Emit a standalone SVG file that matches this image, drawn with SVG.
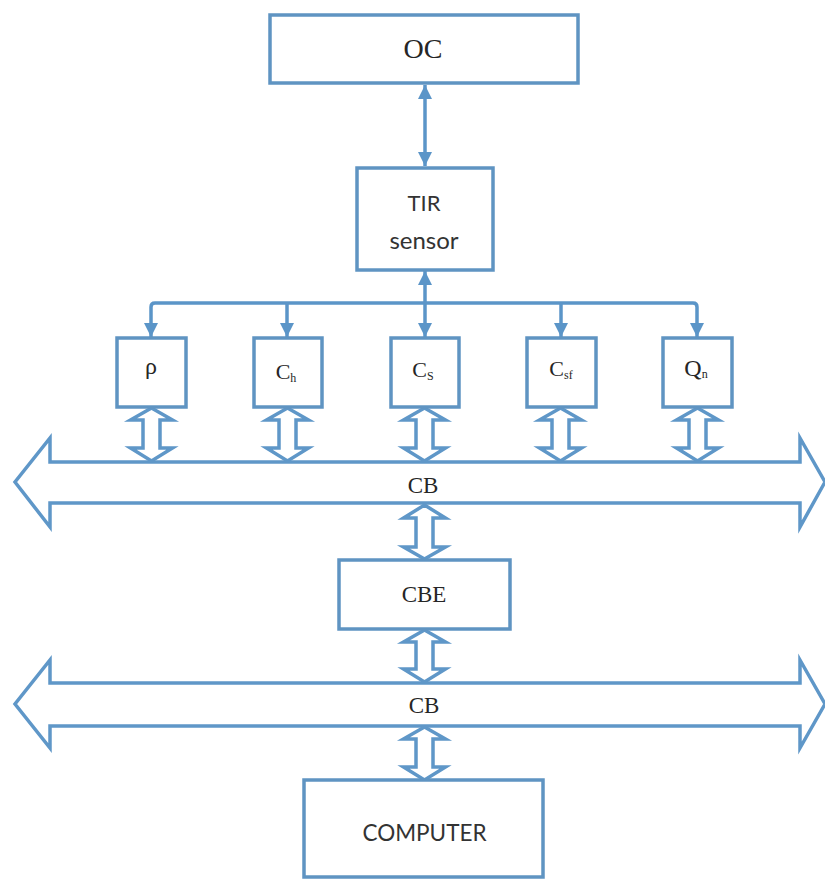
<svg xmlns="http://www.w3.org/2000/svg" width="825" height="881" viewBox="0 0 825 881">
<style>
.b{fill:#fff;stroke:#5f94c2;stroke-width:3.5}
.l{fill:none;stroke:#5b95c8;stroke-width:3.5}
.d{fill:none;stroke:#5f97c8;stroke-width:3.5;stroke-linejoin:miter}
.bus{fill:none;stroke:#5f97c8;stroke-width:3.5}
.s{font-family:"Liberation Serif","Times New Roman",serif;fill:#262626;text-anchor:middle}
.a{font-family:Lato,"Open Sans",sans-serif;fill:#333;text-anchor:middle}
.sub{font-size:12px}
</style>
<defs>
<marker id="h" markerUnits="userSpaceOnUse" markerWidth="15" markerHeight="15" refX="14" refY="7.500" orient="auto-start-reverse"><path d="M0 0.500L14 7.500L0 14.500Z" fill="#5b95c8"/></marker>
</defs>
<g id="connectors">
<path class="l" d="M425 85V166" marker-start="url(#h)" marker-end="url(#h)"/>
<path class="l" d="M425 271V337" marker-start="url(#h)" marker-end="url(#h)"/>
<path class="l" d="M151 337V307Q151 303 155 303H693Q697 303 697 307V337" marker-start="url(#h)" marker-end="url(#h)"/>
<path class="l" d="M287 303V337" marker-end="url(#h)"/>
<path class="l" d="M561 303V337" marker-end="url(#h)"/>
<g id="bus-1"><path class="bus" d="M50 462H800V438L825 482L800 527V503H50V527L15 482L50 438Z"/></g>
<g id="bus-2"><path class="bus" d="M50 683H800V660L825 704L800 748V726H50V748L15 704L50 660Z"/></g>
<path class="d" d="M151.500 408L172.500 420H160V448H172.500L151.500 461L130.500 448H143V420H130.500Z"/>
<path class="d" d="M287.500 408L308.500 420H296V448H308.500L287.500 461L266.500 448H279V420H266.500Z"/>
<path class="d" d="M424.500 408L445.500 420H433V448H445.500L424.500 461L403.500 448H416V420H403.500Z"/>
<path class="d" d="M560.500 408L581.500 420H569V448H581.500L560.500 461L539.500 448H552V420H539.500Z"/>
<path class="d" d="M697.500 408L718.500 420H706V448H718.500L697.500 461L676.500 448H689V420H676.500Z"/>
<path class="d" d="M424.500 505L445.500 518H433V547H445.500L424.500 559L403.500 547H416V518H403.500Z"/>
<path class="d" d="M424.500 630L445.500 642H433V669H445.500L424.500 682L403.500 669H416V642H403.500Z"/>
<path class="d" d="M424.500 727L445.500 739H433V767H445.500L424.500 780L403.500 767H416V739H403.500Z"/>
</g>
<g id="oc"><rect class="b" x="270" y="15" width="308" height="68"/><text class="s" x="423" y="58" font-size="28">OC</text></g>
<g id="tir"><rect class="b" x="357" y="168" width="136" height="102"/><text class="a" x="424" y="211" font-size="22">TIR</text><text class="a" x="424" y="249" font-size="24">sensor</text></g>
<g id="rho"><rect class="b" x="117" y="338" width="69" height="69"/><text class="s" x="151" y="374" font-size="24">ρ</text></g>
<g id="ch"><rect class="b" x="254" y="338" width="68" height="69"/><text class="s" x="286" y="379" font-size="22">C<tspan class="sub" dy="3">h</tspan></text></g>
<g id="cs"><rect class="b" x="391" y="338" width="68" height="69"/><text class="s" x="423" y="377" font-size="22">C<tspan class="sub" dy="3">S</tspan></text></g>
<g id="csf"><rect class="b" x="527" y="338" width="69" height="69"/><text class="s" x="561" y="376" font-size="22">C<tspan class="sub" dy="3">sf</tspan></text></g>
<g id="qn"><rect class="b" x="663" y="338" width="69" height="69"/><text class="s" x="696" y="376" font-size="24">Q<tspan class="sub" dy="2">n</tspan></text></g>
<g id="cb-1"><text class="s" x="423" y="493" font-size="23">CB</text></g>
<g id="cbe"><rect class="b" x="339" y="560" width="171" height="69"/><text class="s" x="424" y="602" font-size="23">CBE</text></g>
<g id="cb-2"><text class="s" x="424" y="713" font-size="23">CB</text></g>
<g id="computer"><rect class="b" x="304" y="780" width="239" height="97"/><text class="a" x="424.500" y="841" font-size="22.500">COMPUTER</text></g>
</svg>
